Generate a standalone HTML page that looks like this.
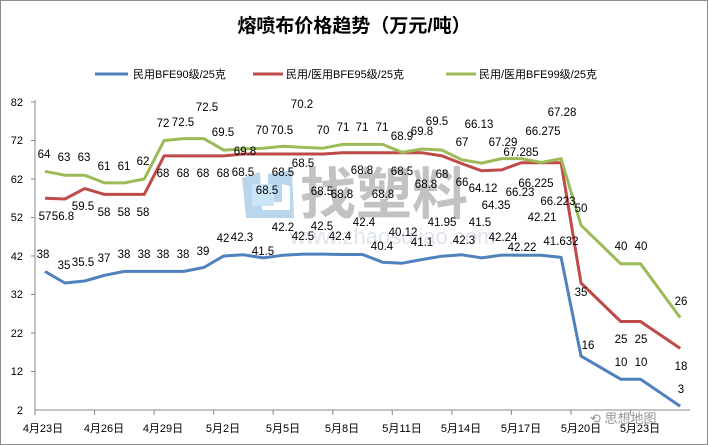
<!DOCTYPE html>
<html><head><meta charset="utf-8"><style>
body{margin:0;background:#fff;}
svg{display:block;font-family:"Liberation Sans","Noto Sans CJK SC",sans-serif;}
.l{font-size:11.5px;fill:#000;text-anchor:middle;dominant-baseline:middle;}
.t{font-size:11px;fill:#000;}
</style></head><body>
<svg width="708" height="445" viewBox="0 0 708 445">
<rect x="0.5" y="0.5" width="707" height="444" fill="#fff" stroke="#8c8c8c"/>
<text x="354" y="32" text-anchor="middle" font-size="19" font-weight="bold" fill="#000">熔喷布价格趋势（万元/吨）</text>
<line x1="95" y1="74" x2="128" y2="74" stroke="#4F81BD" stroke-width="3"/>
<text class="t" x="133" y="78">民用BFE90级/25克</text>
<line x1="253" y1="74" x2="283" y2="74" stroke="#BE4B48" stroke-width="3"/>
<text class="t" x="286" y="78">民用/医用BFE95级/25克</text>
<line x1="446" y1="74" x2="476" y2="74" stroke="#9BBB59" stroke-width="3"/>
<text class="t" x="479" y="78">民用/医用BFE99级/25克</text>
<!-- watermark -->
<g opacity="0.8">
<path d="M242,178 L260,172 L262,210 L290,210 L290,186 L282,184 L282,202 L268,202 L268,174 L292,170 L294,218 L246,218 Z" fill="#a9cde8"/>
<rect x="252" y="184" width="22" height="22" fill="#bfe0f5"/>
<text x="300" y="214" font-size="56" font-weight="bold" fill="#b4b4b4" font-family="'Noto Sans CJK SC',sans-serif">找塑料</text>
<text x="290" y="244" font-size="22" fill="#d8dde8">www.zhaosuliao.com</text>
</g>
<g stroke="#888" stroke-width="1">
<line x1="35" y1="100" x2="35" y2="410"/>
<line x1="35" y1="410" x2="690" y2="410"/>
<line x1="31" y1="102" x2="35" y2="102"/><line x1="31" y1="140.5" x2="35" y2="140.5"/><line x1="31" y1="179" x2="35" y2="179"/><line x1="31" y1="217.5" x2="35" y2="217.5"/><line x1="31" y1="256" x2="35" y2="256"/><line x1="31" y1="294.5" x2="35" y2="294.5"/><line x1="31" y1="333" x2="35" y2="333"/><line x1="31" y1="371.5" x2="35" y2="371.5"/>
<line x1="35" y1="410" x2="35" y2="415"/><line x1="94.6" y1="410" x2="94.6" y2="415"/><line x1="154.1" y1="410" x2="154.1" y2="415"/><line x1="213.7" y1="410" x2="213.7" y2="415"/><line x1="273.2" y1="410" x2="273.2" y2="415"/><line x1="332.8" y1="410" x2="332.8" y2="415"/><line x1="392.3" y1="410" x2="392.3" y2="415"/><line x1="451.9" y1="410" x2="451.9" y2="415"/><line x1="511.4" y1="410" x2="511.4" y2="415"/><line x1="571" y1="410" x2="571" y2="415"/><line x1="630.5" y1="410" x2="630.5" y2="415"/>
</g>
<g font-size="11" text-anchor="end" fill="#000">
<text x="23" y="106">82</text><text x="23" y="144">72</text><text x="23" y="183">62</text><text x="23" y="221">52</text><text x="23" y="260">42</text><text x="23" y="298">32</text><text x="23" y="337">22</text><text x="23" y="375">12</text><text x="23" y="414">2</text>
</g>
<g font-size="11" text-anchor="middle" fill="#000">
<text x="43" y="432">4月23日</text><text x="104" y="432">4月26日</text><text x="163" y="432">4月29日</text><text x="223" y="432">5月2日</text><text x="283" y="432">5月5日</text><text x="342" y="432">5月8日</text><text x="402" y="432">5月11日</text><text x="461" y="432">5月14日</text><text x="521" y="432">5月17日</text><text x="581" y="432">5月20日</text><text x="640" y="432">5月23日</text>
</g>
<text x="590" y="423" font-size="13" fill="#666" opacity="0.7">⟲ 思想地图</text>
<g fill="none" stroke-width="3" stroke-linejoin="round">
<polyline stroke="#4F81BD" points="45,271.4 64.85,283 84.7,281 104.55,275.3 124.4,271.4 144.25,271.4 164.1,271.4 183.95,271.4 203.8,267.5 223.65,256 243.5,254.8 263.35,257.9 283.2,255.2 303.05,254.1 322.9,254.1 342.75,254.5 362.6,254.5 382.45,262.2 402.3,263.2 422.15,259.5 442,256.2 461.85,254.8 481.7,257.9 501.55,255.1 521.4,255.2 541.25,255.2 561.1,257.4 581,356.1 620.7,379.2 640.5,379.2 680.2,406.2"/>
<polyline stroke="#BE4B48" points="45,198.3 64.85,199 84.7,188.6 104.55,194.4 124.4,194.4 144.25,194.4 164.1,155.9 183.95,155.9 203.8,155.9 223.65,155.9 243.5,154 263.35,154 283.2,154 303.05,154 322.9,154 342.75,152.8 362.6,152.8 382.45,152.8 402.3,152.8 422.15,152.8 442,155.9 461.85,163.6 481.7,170.8 501.55,169.9 521.4,162.7 541.25,162.7 561.1,162.7 581,283 620.7,321.5 640.5,321.5 680.2,348.4"/>
<polyline stroke="#9BBB59" points="45,171.3 64.85,175.2 84.7,175.2 104.55,182.9 124.4,182.9 144.25,179 164.1,140.5 183.95,138.6 203.8,138.6 223.65,150.1 243.5,149 263.35,148.2 283.2,146.3 303.05,147.4 322.9,148.2 342.75,144.4 362.6,144.4 382.45,144.4 402.3,152.4 422.15,149 442,150.1 461.85,159.8 481.7,163.1 501.55,158.6 521.4,158.6 541.25,162.5 561.1,158.7 581,225.2 620.7,263.7 640.5,263.7 680.2,317.6"/>
</g>
<g>
<text class="l" x="44" y="155">64</text><text class="l" x="64" y="158">63</text><text class="l" x="84" y="158">63</text><text class="l" x="104" y="167">61</text><text class="l" x="124" y="167">61</text><text class="l" x="143" y="162">62</text><text class="l" x="163" y="124">72</text><text class="l" x="183" y="123">72.5</text><text class="l" x="207" y="108">72.5</text><text class="l" x="223" y="133">69.5</text><text class="l" x="245" y="152">69.8</text><text class="l" x="262" y="131">70</text><text class="l" x="282" y="131">70.5</text><text class="l" x="302" y="105">70.2</text><text class="l" x="323" y="131">70</text><text class="l" x="343" y="128">71</text><text class="l" x="362" y="128">71</text><text class="l" x="382" y="128">71</text><text class="l" x="402" y="137">68.9</text><text class="l" x="422" y="132">69.8</text><text class="l" x="437" y="122">69.5</text><text class="l" x="462" y="143">67</text><text class="l" x="479" y="125">66.13</text><text class="l" x="503" y="143">67.29</text><text class="l" x="521" y="153">67.285</text><text class="l" x="543" y="132">66.275</text><text class="l" x="562" y="113">67.28</text><text class="l" x="581" y="209">50</text><text class="l" x="621" y="247">40</text><text class="l" x="641" y="247">40</text><text class="l" x="681" y="302">26</text>
<text class="l" x="45" y="217">57</text><text class="l" x="63" y="217">56.8</text><text class="l" x="83" y="207">59.5</text><text class="l" x="104" y="213">58</text><text class="l" x="124" y="213">58</text><text class="l" x="143" y="213">58</text><text class="l" x="163" y="174">68</text><text class="l" x="183" y="174">68</text><text class="l" x="203" y="174">68</text><text class="l" x="223" y="174">68</text><text class="l" x="243" y="173">68.5</text><text class="l" x="267" y="191">68.5</text><text class="l" x="283" y="173">68.5</text><text class="l" x="303" y="164">68.5</text><text class="l" x="322" y="192">68.5</text><text class="l" x="342" y="195">68.8</text><text class="l" x="362" y="171">68.8</text><text class="l" x="383" y="195">68.8</text><text class="l" x="402" y="172">68.5</text><text class="l" x="426" y="185">68.8</text><text class="l" x="442" y="175">68</text><text class="l" x="462" y="183">66</text><text class="l" x="483" y="189">64.12</text><text class="l" x="496" y="206">64.35</text><text class="l" x="520" y="193">66.23</text><text class="l" x="536" y="184">66.225</text><text class="l" x="558" y="202">66.223</text><text class="l" x="581" y="293">35</text><text class="l" x="621" y="340">25</text><text class="l" x="641" y="340">25</text><text class="l" x="681" y="367">18</text>
<text class="l" x="43" y="255">38</text><text class="l" x="64" y="266">35</text><text class="l" x="83" y="263">35.5</text><text class="l" x="104" y="259">37</text><text class="l" x="124" y="255">38</text><text class="l" x="144" y="255">38</text><text class="l" x="163" y="255">38</text><text class="l" x="183" y="255">38</text><text class="l" x="203" y="252">39</text><text class="l" x="223" y="239">42</text><text class="l" x="242" y="238">42.3</text><text class="l" x="263" y="252">41.5</text><text class="l" x="283" y="228">42.2</text><text class="l" x="303" y="237">42.5</text><text class="l" x="322" y="227">42.5</text><text class="l" x="340" y="237">42.4</text><text class="l" x="364" y="223">42.4</text><text class="l" x="382" y="247">40.4</text><text class="l" x="403" y="233">40.12</text><text class="l" x="422" y="243">41.1</text><text class="l" x="442" y="223">41.95</text><text class="l" x="464" y="241">42.3</text><text class="l" x="480" y="223">41.5</text><text class="l" x="503" y="238">42.24</text><text class="l" x="522" y="248">42.22</text><text class="l" x="542" y="218">42.21</text><text class="l" x="561" y="242">41.632</text><text class="l" x="588" y="346">16</text><text class="l" x="621" y="363">10</text><text class="l" x="641" y="363">10</text><text class="l" x="681" y="390">3</text>
</g>
</svg>
</body></html>
